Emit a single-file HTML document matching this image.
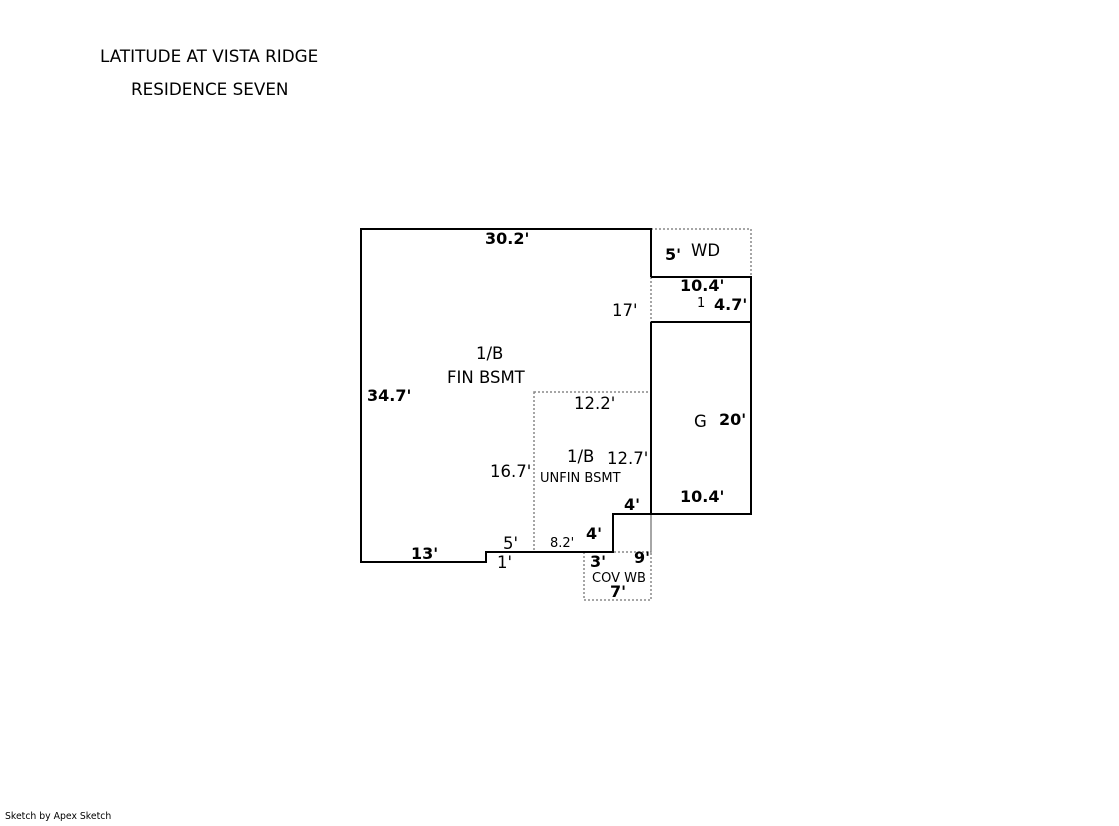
<!DOCTYPE html>
<html><head><style>
body{margin:0;background:#fff;}
svg text{font-family:"DejaVu Sans","Liberation Sans",sans-serif;fill:#000;}
</style></head><body>
<svg width="1119" height="821" xmlns="http://www.w3.org/2000/svg">
<rect width="1119" height="821" fill="#fff"/>
<text x="100" y="62" font-size="16.8">LATITUDE AT VISTA RIDGE</text>
<text x="131" y="95" font-size="16.8">RESIDENCE SEVEN</text>
<g fill="none" stroke="#888" stroke-width="1.5" stroke-dasharray="2,2">
<polyline points="651,229 751,229 751,277"/>
<line x1="651" y1="277" x2="651" y2="322"/>
<rect x="534" y="392" width="117" height="160"/>
<polyline points="584,552 584,600 651,600 651,514"/>
</g>
<g fill="none" stroke="#000" stroke-width="2">
<polyline points="651,277 651,229 361,229 361,562 486,562 486,552 613,552 613,514 751,514 751,277 651,277"/>
<line x1="651" y1="322" x2="751" y2="322"/>
<line x1="651" y1="322" x2="651" y2="514"/>
</g>
<g font-size="16" font-weight="bold">
<text x="485" y="244">30.2'</text>
<text x="665" y="260">5'</text>
<text x="680" y="291">10.4'</text>
<text x="714" y="310">4.7'</text>
<text x="367" y="401">34.7'</text>
<text x="719" y="425">20'</text>
<text x="680" y="502">10.4'</text>
<text x="624" y="510">4'</text>
<text x="586" y="539">4'</text>
<text x="411" y="559">13'</text>
<text x="590" y="567">3'</text>
<text x="634" y="563">9'</text>
<text x="610" y="597">7'</text>
</g>
<g font-size="16.5">
<text x="691" y="256">WD</text>
<text x="612" y="316">17'</text>
<text x="476" y="359">1/B</text>
<text x="447" y="383">FIN BSMT</text>
<text x="574" y="409">12.2'</text>
<text x="694" y="427">G</text>
<text x="567" y="462">1/B</text>
<text x="607" y="464">12.7'</text>
<text x="490" y="477">16.7'</text>
<text x="503" y="549">5'</text>
<text x="497" y="568">1'</text>
</g>
<g font-size="13">
<text x="697" y="307">1</text>
<text x="540" y="482">UNFIN BSMT</text>
<text x="550" y="547">8.2'</text>
<text x="592" y="582">COV WB</text>
</g>
<text x="5" y="819" font-size="9.3">Sketch by Apex Sketch</text>
</svg>
</body></html>
